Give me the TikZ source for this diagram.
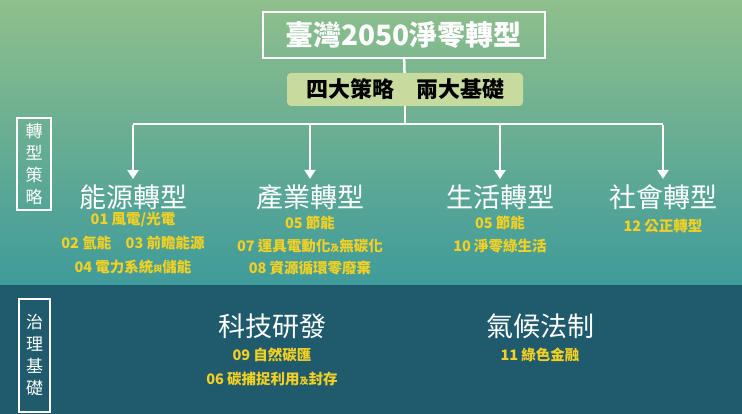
\documentclass[tikz,border=0pt]{standalone}
\usepackage{fontspec}
\setmainfont{Noto Sans CJK TC}
\usepackage{xcolor}
\definecolor{topgreen}{HTML}{8FBF8C}
\definecolor{midteal}{HTML}{3F9B9A}
\definecolor{darkpanel}{HTML}{1F5A6D}
\definecolor{subfill}{HTML}{C8DB9F}
\definecolor{itemyellow}{HTML}{F2D024}
\usetikzlibrary{arrows.meta}
\tikzset{
  head/.style={text=white,font=\fontsize{27}{30}\selectfont},
  item/.style={text=itemyellow,font=\bfseries\fontsize{14.5}{16}\selectfont},
  sidebox/.style={draw=white,line width=1.5pt,text=white,align=center,
    font=\fontsize{17}{22}\selectfont,inner sep=2pt},
  wire/.style={draw=white,line width=2.5pt},
}
\newcommand{\sm}[1]{{\fontsize{9}{10}\selectfont #1}}
\begin{document}
\begin{tikzpicture}[x=1pt,y=-1pt]
		\begin{scope}
			% background
			\shade[top color=topgreen,bottom color=midteal] (0,0) rectangle (742,285);
			\fill[darkpanel] (0,285) rectangle (742,414);
			\useasboundingbox (0,0) rectangle (742,414);
			% top
			\node[draw=white,line width=2pt,minimum width=282,minimum height=46,
			  text=white,font=\bfseries\fontsize{28}{30}\selectfont] (title) at (403.5,35) {臺灣2050淨零轉型};
			\node[fill=subfill,rounded corners=4pt,minimum width=236,minimum height=33,
			  font=\bfseries\fontsize{22}{24}\selectfont] (sub) at (405,89.5) {四大策略\quad 兩大基礎};
			\coordinate (j) at (405,124);
			\draw[wire] (title) -- (sub);
			\draw[wire] (sub) -- (j);
			\coordinate (a1) at (133,124);
			\coordinate (a2) at (310,124);
			\coordinate (a3) at (500,124);
			\coordinate (a4) at (663,124);
			\draw[wire] (a1) -- (a4);
			\node[head] (h1) at (133,197) {能源轉型};
			\node[head] (h2) at (310,197) {產業轉型};
			\node[head] (h3) at (500,197) {生活轉型};
			\node[head] (h4) at (663,197) {社會轉型};
			\foreach \Nombre in {1,2,3,4}
			\draw[wire,-{Triangle[length=9pt,width=11pt]}] ([yshift=-1.2pt]a\Nombre) -- ([yshift=2pt]h\Nombre.north);
			% items
			\node[item] (e1) at (133,220) {01 風電/光電};
			\node[item] (e2) at (133,243) {02 氫能\quad 03 前瞻能源};
			\node[item] (e3) at (133,267) {04 電力系統\sm{與}儲能};
			\node[item] (i1) at (310,223) {05 節能};
			\node[item] (i2) at (310,246) {07 運具電動化\sm{及}無碳化};
			\node[item] (i3) at (310,268) {08 資源循環零廢棄};
			\node[item] (l1) at (500,223) {05 節能};
			\node[item] (l2) at (500,246) {10 淨零綠生活};
			\node[item] (s1) at (663,226) {12 公正轉型};
			\node[sidebox,minimum width=34,minimum height=92] (side1) at (34,164) {轉\\型\\策\\略};
			% bottom
			\node[sidebox,minimum width=31,minimum height=113] (side2) at (34.5,355.5) {治\\理\\基\\礎};
			\node[head] (g1) at (272,326) {科技研發};
			\node[head] (g2) at (540,326) {氣候法制};
			\node[item] (t1) at (272,355) {09 自然碳匯};
			\node[item] (t2) at (272,379) {06 碳捕捉利用\sm{及}封存};
			\node[item] (c1) at (540,355) {11 綠色金融};
		\end{scope}
	\end{tikzpicture}
\end{document}
